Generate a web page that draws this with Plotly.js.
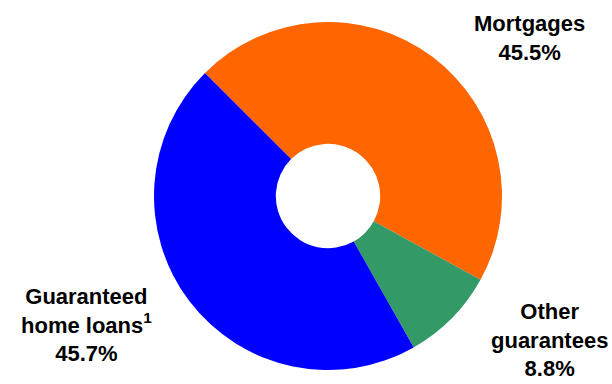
<!DOCTYPE html>
<html>
<head>
<meta charset="utf-8">
<script src="https://cdn.plot.ly/plotly-3.0.1.min.js"></script>
<style>html,body{margin:0;padding:0;background:#fff;}#chart{width:612px;height:384px;}</style>
</head>
<body>
<div id="chart"></div>
<script>
const categories = ["Mortgages", "Other guarantees", "Guaranteed home loans"];
const values = [45.5, 8.8, 45.7];
const colors = ["#FF6600", "#339966", "#0000FF"];
const labelLines = [["Mortgages"], ["Other", "guarantees"], ["Guaranteed", "home loans<sup>1</sup>"]];
const labelPos = [[529, 38], [549, 340], [86, 325]]; // pixel centres of label blocks

const W = 612, H = 384;
const cx = 328, cy = 196, r = 174;

const trace = {
  type: "pie",
  labels: categories,
  values: values,
  marker: {colors: colors, line: {width: 0}},
  hole: 0.3,
  sort: false,
  direction: "clockwise",
  rotation: -45,
  textinfo: "none",
  hoverinfo: "skip",
  showlegend: false,
  domain: {x: [(cx - r) / W, (cx + r) / W], y: [(H - cy - r) / H, (H - cy + r) / H]}
};

const annotations = categories.map((c, i) => ({
  xref: "paper", yref: "paper",
  x: labelPos[i][0] / W, y: 1 - labelPos[i][1] / H,
  xanchor: "center", yanchor: "middle",
  showarrow: false, align: "center",
  text: labelLines[i].concat([values[i].toFixed(1) + "%"]).join("<br>"),
  font: {family: "Liberation Sans, Arial, sans-serif", size: 22, color: "#000", weight: "bold"}
}));

Plotly.newPlot("chart", [trace], {
  width: W, height: H,
  margin: {l: 0, r: 0, t: 0, b: 0},
  paper_bgcolor: "#fff",
  annotations: annotations
}, {displayModeBar: false, staticPlot: true});
</script>
</body>
</html>
